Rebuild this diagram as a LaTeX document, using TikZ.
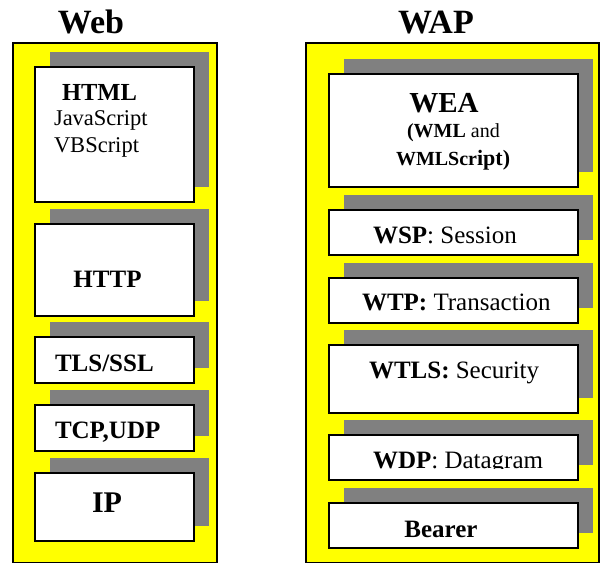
\documentclass[tikz,border=0pt]{standalone}
\usepackage{fontspec}
\setmainfont{Liberation Serif}
\usetikzlibrary{shadows}
\definecolor{stackyellow}{RGB}{255,255,0}
\definecolor{shadowgray}{RGB}{128,128,128}
\newcommand{\fs}[1]{\fontsize{#1}{#1}\selectfont}
\begin{document}
\begin{tikzpicture}[x=1pt,y=-1pt,
  stack/.style={draw=black, line width=1.3pt, fill=stackyellow},
  layer/.style={draw=black, line width=1.5pt, fill=white, anchor=north west,
    inner sep=0pt, outer sep=0pt,
    general shadow={fill=shadowgray, shadow xshift=15pt, shadow yshift=15pt}},
  webbox/.style={layer, minimum width=159pt},
  wapbox/.style={layer, minimum width=249pt},
  lbl/.style={inner sep=0pt, outer sep=0pt},
  title/.style={lbl, anchor=base, font=\fs{34}\bfseries},
  txt/.style={lbl, anchor=base west, font=\fs{25}}
]
\useasboundingbox (0,0) rectangle (600,563);

% titles
\node[title] (webtitle) at (91,33) {Web};
\node[title] (waptitle) at (436,33) {WAP};

% yellow stacks
\path[stack] (13,43) rectangle (217,562.5);
\path[stack] (306,43) rectangle (599,562.5);

% Web protocol layers
\node[webbox, minimum height=135pt] (html) at (35,67) {};
\node[webbox, minimum height=92pt] (http) at (35,224) {};
\node[webbox, minimum height=46pt] (tls) at (35,337) {};
\node[webbox, minimum height=46pt] (tcp) at (35,405) {};
\node[webbox, minimum height=68pt] (ip) at (35,473) {};

% WAP protocol layers
\node[wapbox, minimum height=113pt] (wea) at (329,74) {};
\node[wapbox, minimum height=45pt] (wsp) at (329,210) {};
\node[wapbox, minimum height=45pt] (wtp) at (329,278) {};
\node[wapbox, minimum height=68pt] (wtls) at (329,345) {};
\node[wapbox, minimum height=45pt] (wdp) at (329,435) {};
\node[wapbox, minimum height=45pt] (bearer) at (329,503) {};

% Web labels
\node[txt, font=\fs{24.5}\bfseries] (htmlt) at (62,100) {HTML};
\node[txt, font=\fs{22.5}] (jst) at (54,125) {JavaScript};
\node[txt, font=\fs{22.5}] (vbt) at (54,152) {VBScript};
\node[lbl, anchor=base, font=\fs{25}\bfseries] (httpt) at (107.5,287) {HTTP};
\node[txt, font=\fs{25}\bfseries] (tlst) at (55,371) {TLS/SSL};
\node[txt, font=\fs{25}\bfseries] (tcpt) at (55,438) {TCP,UDP};
\node[lbl, anchor=base, font=\fs{30}\bfseries] (ipt) at (107,512) {IP};

% WAP labels
\node[lbl, anchor=base, font=\fs{29}\bfseries] (weat) at (444,112) {WEA};
\node[txt, font=\fs{20}] (wmlt) at (407,137) {\textbf{(WML} and};
\node[txt, font=\fs{20}\bfseries] (wmlst) at (396,165) {WMLScr{\fs{22}ipt)}};
\node[txt] (wspt) at (373,243) {\textbf{WSP}: Session};
\node[txt] (wtpt) at (362,310) {\textbf{WTP:} Transaction};
\node[txt] (wtlst) at (369,378) {\textbf{WTLS:} Security};
\begin{scope}
  \clip (329,435) rectangle (578,468.5);
  \node[txt] (wdpt) at (373,468) {\textbf{WDP}: Datagram};
\end{scope}
\node[lbl, anchor=base, font=\fs{25}\bfseries] (bearert) at (441,537) {Bearer};
\end{tikzpicture}
\end{document}
